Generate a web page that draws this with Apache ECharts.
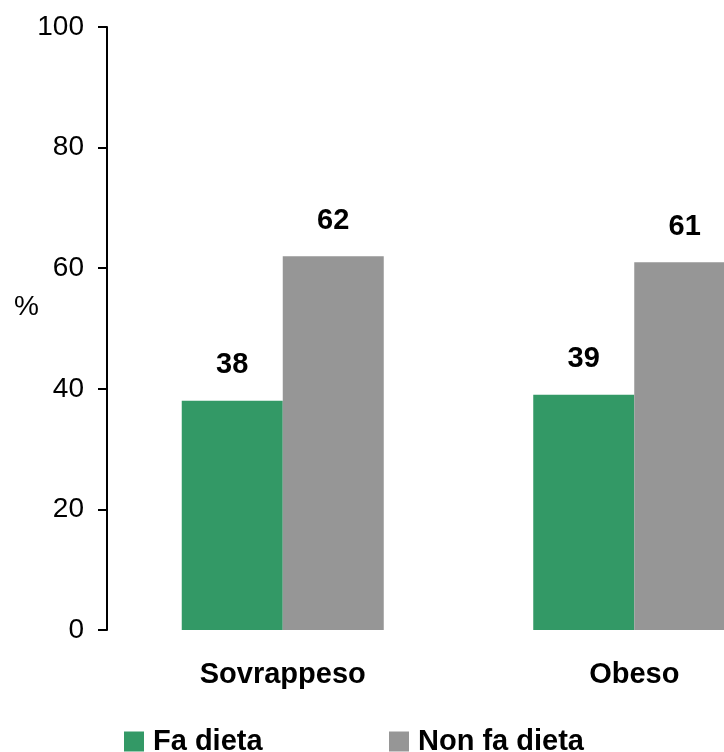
<!DOCTYPE html>
<html>
<head>
<meta charset="utf-8">
<script src="https://cdn.jsdelivr.net/npm/echarts@6/dist/echarts.min.js"></script>
<style>
html,body{margin:0;padding:0;background:#fff;}
#chart{width:724px;height:752px;}
</style>
</head>
<body>
<div id="chart"></div>
<script>
const categories = ['Sovrappeso', 'Obeso'];
const seriesNames = ['Fa dieta', 'Non fa dieta'];
const faDieta = [38, 39];
const nonFaDieta = [62, 61];
const yTicks = [0, 20, 40, 60, 80, 100];

const FONT = "'Liberation Sans', Arial, sans-serif";
const chart = echarts.init(document.getElementById('chart'), null, {renderer: 'canvas'});

const labelStyle = {
  show: true,
  position: 'top',
  distance: 21,
  color: '#000',
  fontFamily: FONT,
  fontWeight: 'bold',
  fontSize: 29
};

const legendText = {fontFamily: FONT, fontWeight: 'bold', fontSize: 29, color: '#000', padding: [0, 0, 0, 4]};

chart.setOption({
  animation: false,
  backgroundColor: '#fff',
  grid: {left: 107, top: 27, bottom: 122, width: 703, containLabel: false, outerBoundsMode: 'none'},
  graphic: [{
    type: 'text',
    left: 14,
    top: 293,
    style: {text: '%', font: "28px " + FONT, fill: '#000'}
  }],
  legend: [
    {
      data: [seriesNames[0]],
      left: 124, top: 727, padding: 0,
      icon: 'rect', itemWidth: 20, itemHeight: 20,
      textStyle: legendText
    },
    {
      data: [seriesNames[1]],
      left: 389, top: 727, padding: 0,
      icon: 'rect', itemWidth: 20, itemHeight: 20,
      textStyle: legendText
    }
  ],
  xAxis: {
    type: 'category',
    data: categories,
    axisLine: {show: false},
    axisTick: {show: false},
    axisLabel: {
      margin: 30,
      color: '#000',
      fontFamily: FONT,
      fontWeight: 'bold',
      fontSize: 29
    }
  },
  yAxis: {
    type: 'value',
    min: yTicks[0],
    max: yTicks[yTicks.length - 1],
    interval: yTicks[1] - yTicks[0],
    splitLine: {show: false},
    axisLine: {show: true, lineStyle: {color: '#000', width: 2}},
    axisTick: {show: true, length: 9, inside: false, lineStyle: {color: '#000', width: 2}},
    axisLabel: {
      margin: 23,
      color: '#000',
      fontFamily: FONT,
      fontSize: 28
    }
  },
  series: [
    {
      name: seriesNames[0],
      type: 'bar',
      data: faDieta,
      barWidth: 101,
      barGap: '0%',
      itemStyle: {color: '#339966'},
      label: labelStyle
    },
    {
      name: seriesNames[1],
      type: 'bar',
      data: nonFaDieta,
      barWidth: 101,
      barGap: '0%',
      itemStyle: {color: '#969696'},
      label: labelStyle
    }
  ]
});
</script>
</body>
</html>
